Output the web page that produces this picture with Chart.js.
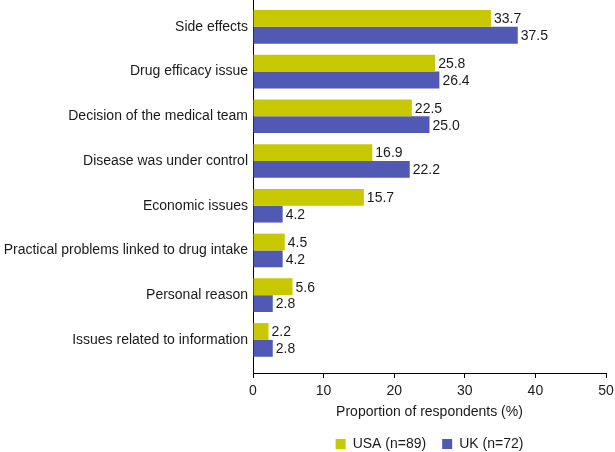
<!DOCTYPE html>
<html>
<head>
<meta charset="utf-8">
<script src="https://cdn.jsdelivr.net/npm/chart.js@4/dist/chart.umd.min.js"></script>
<style>
  html, body { margin: 0; padding: 0; background: #fff; }
  #wrap { width: 615px; height: 452px; position: relative; }
</style>
</head>
<body>
<div id="wrap"><canvas id="c"></canvas></div>
<script>
const categories = [
  'Side effects',
  'Drug efficacy issue',
  'Decision of the medical team',
  'Disease was under control',
  'Economic issues',
  'Practical problems linked to drug intake',
  'Personal reason',
  'Issues related to information'
];
const usaValues = [33.7, 25.8, 22.5, 16.9, 15.7, 4.5, 5.6, 2.2];
const ukValues  = [37.5, 26.4, 25.0, 22.2, 4.2, 4.2, 2.8, 2.8];
const seriesNames = ['USA (n=89)', 'UK (n=72)'];
const xTicks = [0, 10, 20, 30, 40, 50];
const xTitle = 'Proportion of respondents (%)';

const FONT = 'Arial, "Liberation Sans", sans-serif';
const TEXT = '#1a1a1a';

const valueLabels = {
  id: 'valueLabels',
  afterDatasetsDraw(chart) {
    const ctx = chart.ctx;
    ctx.save();
    ctx.font = '14px ' + FONT;
    ctx.fillStyle = TEXT;
    ctx.textAlign = 'left';
    ctx.textBaseline = 'middle';
    chart.data.datasets.forEach((ds, di) => {
      const meta = chart.getDatasetMeta(di);
      meta.data.forEach((bar, i) => {
        ctx.fillText(ds.data[i].toFixed(1), bar.x + 3, bar.y + 1);
      });
    });
    ctx.restore();
  }
};

new Chart(document.getElementById('c'), {
  type: 'bar',
  data: {
    labels: categories,
    datasets: [
      { label: seriesNames[0], data: usaValues, backgroundColor: '#c8c800' },
      { label: seriesNames[1], data: ukValues, backgroundColor: '#5059b3' }
    ]
  },
  options: {
    indexAxis: 'y',
    responsive: true,
    maintainAspectRatio: false,
    animation: false,
    categoryPercentage: 0.753,
    barPercentage: 1.0,
    layout: { padding: { top: 0, right: 0, left: 0, bottom: 0 } },
    plugins: {
      legend: {
        position: 'bottom',
        fullSize: false,
        maxHeight: 31,
        labels: {
          font: { size: 14, family: FONT },
          color: TEXT,
          boxWidth: 10,
          boxHeight: 10,
          padding: 16
        }
      },
      tooltip: { enabled: false }
    },
    scales: {
      x: {
        type: 'linear',
        min: 0,
        max: 50,
        afterBuildTicks(axis) { axis.ticks = xTicks.map(v => ({ value: v })); },
        afterFit(axis) {
          axis.height = 48;
          axis.paddingRight = 9;
        },
        ticks: { font: { size: 14, family: FONT }, color: TEXT, padding: 5 },
        grid: { display: true, drawOnChartArea: false, drawTicks: true, tickLength: 5, color: '#000', lineWidth: 1 },
        border: { display: true, color: '#000', width: 1 },
        title: { display: true, text: xTitle, font: { size: 14, family: FONT }, color: TEXT, padding: { top: 0, bottom: 0 } }
      },
      y: {
        type: 'category',
        afterBuildTicks(axis) {
          axis._startValue -= 0.1;
          axis._valueRange += 0.34;
        },
        afterFit(axis) {
          axis.width = 253;
          axis.paddingTop = 0;
          axis.paddingBottom = 0;
        },
        ticks: { font: { size: 14, family: FONT }, color: TEXT, padding: 5 },
        grid: { display: false, drawTicks: false },
        border: { display: true, color: '#000', width: 1 }
      }
    }
  },
  plugins: [valueLabels]
});
</script>
</body>
</html>
